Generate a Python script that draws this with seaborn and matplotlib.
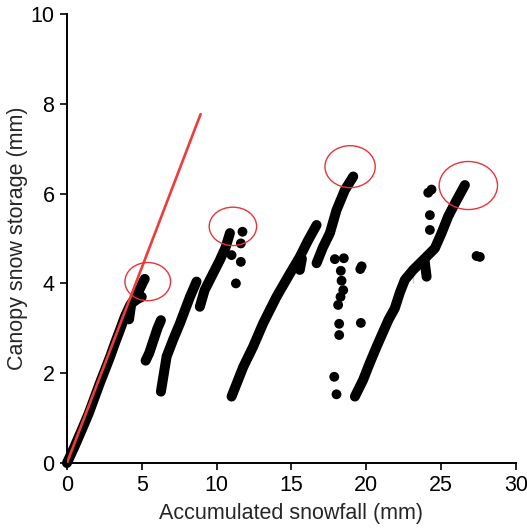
import matplotlib
matplotlib.use('Agg')
import matplotlib.pyplot as plt
from matplotlib.patches import Ellipse
import seaborn as sns

s1_x = [0.0, 0.5, 0.98, 1.45, 1.87, 2.2, 2.54, 2.9, 3.21, 3.55, 3.87, 4.2, 4.5, 4.76, 5.1, 5.2]
s1_y = [0.0, 0.36, 0.73, 1.1, 1.48, 1.78, 2.07, 2.38, 2.67, 2.97, 3.26, 3.5, 3.65, 3.8, 4.04, 4.1]
s1b_x = [4.15, 4.3, 4.7, 5.0]
s1b_y = [3.2, 3.55, 3.65, 3.7]
s2_x = [5.26, 5.5, 5.8, 6.05, 6.28]
s2_y = [2.28, 2.45, 2.75, 3.0, 3.18]
s3_x = [6.28, 6.66, 7.1, 7.55, 8.22, 8.66]
s3_y = [1.59, 2.37, 2.75, 3.11, 3.70, 4.04]
s3b_x = [8.88, 9.2, 9.55, 10.22, 10.6, 10.89]
s3b_y = [3.48, 3.85, 4.08, 4.52, 4.8, 5.12]
s4_x = [11.0, 11.78, 12.44, 13.11, 14.0, 14.9, 15.56, 16.1, 16.68]
s4_y = [1.48, 2.14, 2.59, 3.11, 3.70, 4.22, 4.59, 4.95, 5.30]
s4b_x = [15.4, 15.56, 15.7]
s4b_y = [4.45, 4.3, 4.55]
s4c_x = [16.68, 17.1, 17.57, 18.01, 18.57, 19.13]
s4c_y = [4.45, 4.8, 5.12, 5.63, 6.08, 6.38]
s5_x = [19.24, 19.79, 20.2, 20.69, 21.1, 21.5, 21.9, 22.25, 22.58, 23.13, 23.8, 24.58, 25.03, 25.47, 25.92, 26.59]
s5_y = [1.48, 1.85, 2.2, 2.59, 2.9, 3.2, 3.44, 3.8, 4.08, 4.30, 4.52, 4.78, 5.12, 5.49, 5.78, 6.19]
s5b_x = [23.13, 23.13]
s5b_y = [4.3, 4.0]
s5c_x = [23.9, 24.03]
s5c_y = [4.5, 4.15]

# scattered single points
dots_x = [11.0, 11.73, 11.62, 11.62, 11.29,
          17.9, 18.5, 18.3, 18.35, 18.46, 18.28, 18.12, 18.19, 18.19, 17.86, 18.01,
          19.69, 19.6, 19.64,
          24.14, 24.36, 24.25, 24.25, 27.37, 27.59]
dots_y = [4.63, 5.15, 4.89, 4.48, 4.0,
          4.54, 4.56, 4.28, 4.06, 3.85, 3.70, 3.52, 3.10, 2.85, 1.92, 1.53,
          4.38, 4.32, 3.12,
          6.02, 6.09, 5.52, 5.19, 4.61, 4.59]

# reference line and highlighted maxima
line_x = [0.0, 8.93]
line_y = [0.0, 7.77]
ell_x = [5.40, 11.09, 18.92, 26.82]
ell_y = [4.04, 5.27, 6.60, 6.18]
ell_w = [3.05, 3.17, 3.36, 3.90]
ell_h = [0.85, 0.855, 0.935, 1.07]

sns.set_style('ticks')
plt.rcParams['font.family'] = ['Liberation Sans', 'DejaVu Sans']

fig = plt.figure(figsize=(5.27, 5.32), dpi=100)
ax = fig.add_axes([0.127, 0.1297, 0.852, 0.844])

streaks = [(s1_x, s1_y), (s1b_x, s1b_y), (s2_x, s2_y), (s3_x, s3_y), (s3b_x, s3b_y),
           (s4_x, s4_y), (s4b_x, s4b_y), (s4c_x, s4c_y), (s5_x, s5_y), (s5b_x, s5b_y),
           (s5c_x, s5c_y)]
for sx, sy in streaks:
    sns.lineplot(x=sx, y=sy, sort=False, color='black', lw=7.2, ax=ax,
                 solid_capstyle='round', solid_joinstyle='round', clip_on=False, zorder=2)

sns.scatterplot(x=dots_x, y=dots_y, color='black', s=50, edgecolor='none', ax=ax, zorder=2)

sns.lineplot(x=line_x, y=line_y, sort=False, color='#ef3b3b', lw=1.9, ax=ax, zorder=4)

for cx, cy, w, h in zip(ell_x, ell_y, ell_w, ell_h):
    ax.add_patch(Ellipse((cx, cy), w, h, fill=False, edgecolor='#e8333a', lw=1.0, zorder=5))

ax.set_xlim(0, 30)
ax.set_ylim(0, 10)
ax.set_xticks([0, 5, 10, 15, 20, 25, 30])
ax.set_yticks([0, 2, 4, 6, 8, 10])
ax.set_xlabel('Accumulated snowfall (mm)', fontsize=15.5, labelpad=5)
ax.set_ylabel('Canopy snow storage (mm)', fontsize=15.5, labelpad=2)
ax.tick_params(axis='both', labelsize=15.5, length=5, width=1.2, direction='out', pad=4, colors='black')
for side in ['left', 'bottom']:
    ax.spines[side].set_linewidth(1.4)
    ax.spines[side].set_color('black')
sns.despine(ax=ax)

plt.savefig('out.png', dpi=100)
plt.close()
